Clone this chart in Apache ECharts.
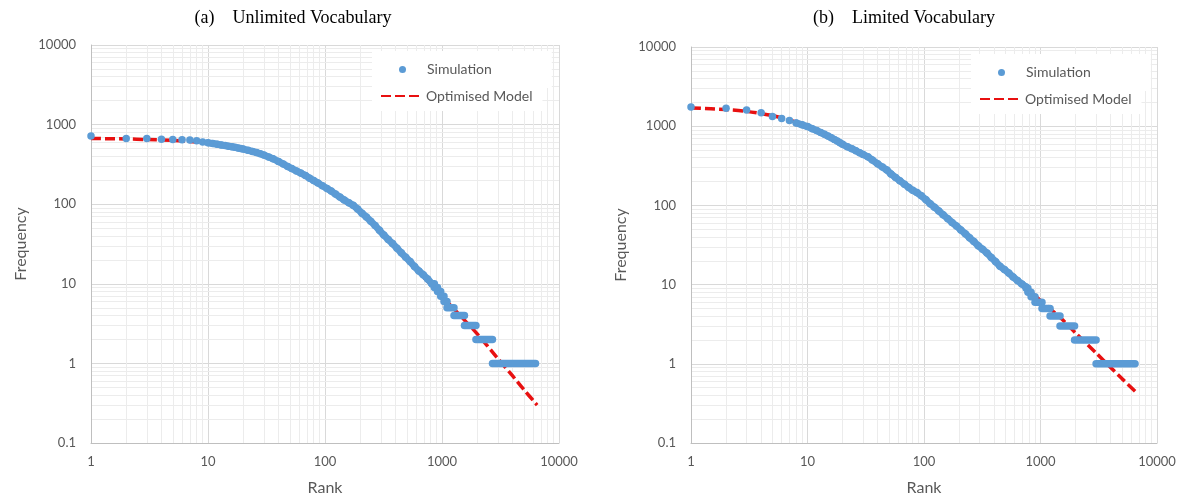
<!DOCTYPE html>
<html><head><meta charset="utf-8">
<script src="https://cdn.jsdelivr.net/npm/echarts@6/dist/echarts.min.js"></script>
<style>html,body{margin:0;padding:0;background:#fff}#c{width:1186px;height:501px}</style>
</head><body><div id="c"></div>
<script>
const titles = ['(a)    Unlimited Vocabulary', '(b)    Limited Vocabulary'];
const xTicks = [1, 10, 100, 1000, 10000];
const yTicks = [0.1, 1, 10, 100, 1000, 10000];
const seriesNames = ['Simulation', 'Optimised Model'];

// (a) Unlimited vocabulary — simulation (dense part)
const simA_rank = [1,2,3,4,5,6,7,8,9,10,11,12,13,14,15,16,17,18,19,20,22,24,26,28,30,33,36,40,44,48,52,57,62,68,74,80,87,95,104,113,123,134,146,160,174,190,207,226,246,268,292,318,347,378,412,449,490,534,582,634,691,753,821];
const simA_freq = [720,670,670,655,650,645,640,625,605,590,578,566,555,545,535,527,518,510,500,492,475,460,445,430,415,392,372,345,320,298,280,262,246,230,212,198,185,170,157,146,134,123,113,104,97,87,77,69,61,54,47,41,36,32,28,24.5,21.5,19,16.5,14.5,13,11.5,10];
const simA_denseFrom = 10; // rank from which the points merge into a continuous band
// (a) simulation — frequency plateaus (first rank, last rank)
const stepA_freq  = [10,9,8,7,6,5,4,3,2,1];
const stepA_start = [821,860,915,975,1040,1104,1266,1556,1950,2700];
const stepA_end   = [860,915,975,1040,1104,1266,1556,1950,2700,6300];
// (a) optimised model
const modelA_rank = [1,2,3,5,7,10,15,20,30,50,70,100,150,200,300,500,700,1000,1500,2000,3000,4000,5000,6500];
const modelA_freq = [670,660,650,635,615,585,535,492,415,285,220,160,110,80,44,20,12,7,3.7,2.35,1.15,0.7,0.47,0.3];

// (b) Limited vocabulary — simulation (dense part)
const simB_rank = [1,2,3,4,5,6,7,8,9,10,11,12,13,14,15,16,17,18,19,20,22,24,26,28,30,33,36,40,44,48,52,57,62,68,74,80,87,95,104,113,123,134,146,160,174,190,207,226,246,268,292,318,347,378,412,449,490,534,582,634,691,753];
const simB_freq = [1750,1680,1600,1480,1330,1250,1180,1100,1040,990,930,880,830,790,750,715,680,650,620,590,550,520,490,462,440,410,375,335,305,280,250,225,205,185,168,155,145,132,118,105,95,85,76,68,61,55,49,44,39,35,31,28,25,22,19.5,17,15.5,14,12.5,11.3,10.2,9.3];
const simB_denseFrom = 8;
const stepB_freq  = [9,8,7,6,5,4,3,2,1];
const stepB_start = [753,780,830,897,1030,1208,1470,1960,3000];
const stepB_end   = [780,830,897,1030,1208,1470,1960,3000,6475];
const modelB_rank = [1,2,3,5,7,10,15,20,30,50,70,100,150,200,300,500,700,1000,1500,2000,3000,4000,5000,6500];
const modelB_freq = [1700,1620,1540,1360,1200,990,760,600,440,260,180,125,76,52,30,15,10,6.3,3.75,2.45,1.37,0.9,0.65,0.45];

const BLUE = '#5B9BD5', RED = '#E81010';
const LABEL = '#595959';
const FONT = 'Lato';

const zip = (a, b) => a.map((v, i) => [v, b[i]]);

function minorLines() {
  const xs = [], ys = [];
  for (let i = 0; i < xTicks.length - 1; i++)
    for (let m = 2; m <= 9; m++) xs.push(+(m * xTicks[i]).toPrecision(3));
  for (let i = 0; i < yTicks.length - 1; i++)
    for (let m = 2; m <= 9; m++) ys.push(+(m * yTicks[i]).toPrecision(3));
  return xs.map(v => ({xAxis: v})).concat(ys.map(v => ({yAxis: v})));
}

function chartSeries(gi, simR, simF, denseFrom, stF, stS, stE, mR, mF) {
  const s = [];
  s.push({
    type: 'line', xAxisIndex: gi, yAxisIndex: gi, data: [[1, 1]], showSymbol: false, symbol: 'none',
    lineStyle: {opacity: 0}, silent: true, z: 0, animation: false,
    markLine: {silent: true, z: 0, symbol: ['none', 'none'], label: {show: false}, animation: false,
      lineStyle: {color: '#ececec', width: 1, type: 'solid'}, data: minorLines()}
  });
  s.push({
    name: seriesNames[1], type: 'line', xAxisIndex: gi, yAxisIndex: gi,
    data: zip(mR, mF), symbol: 'none', showSymbol: false, smooth: 0.3, z: 2, animation: false,
    lineStyle: {color: RED, width: 3.5, type: [10, 4]}, itemStyle: {color: RED}
  });
  // continuous band where consecutive ranks overlap
  const dense = zip(simR, simF).filter(p => p[0] >= denseFrom);
  s.push({
    type: 'line', xAxisIndex: gi, yAxisIndex: gi, symbol: 'none', silent: true, z: 3,
    data: dense, lineStyle: {color: BLUE, width: 7, cap: 'round', join: 'round'}, animation: false
  });
  stF.forEach((f, i) => s.push({
    type: 'line', xAxisIndex: gi, yAxisIndex: gi, symbol: 'none', silent: true, z: 3,
    data: [[stS[i], f], [stE[i], f]],
    lineStyle: {color: BLUE, width: 7.5, cap: 'round'}, animation: false
  }));
  s.push({
    name: seriesNames[0], type: 'scatter', xAxisIndex: gi, yAxisIndex: gi,
    data: zip(simR, simF), symbol: 'circle', symbolSize: 7.5,
    itemStyle: {color: BLUE, opacity: 1, borderWidth: 0}, z: 3, animation: false, clip: false
  });
  return s;
}

const fmt = v => String(+Number(v).toPrecision(4));

function xAx(gi) {
  return {
    type: 'log', logBase: 10, gridIndex: gi, min: xTicks[0], max: xTicks[xTicks.length - 1],
    name: 'Rank', nameLocation: 'middle', nameGap: 37,
    nameTextStyle: {fontFamily: FONT, fontSize: 16, color: LABEL},
    axisLine: {show: true, lineStyle: {color: '#bfbfbf', width: 1}},
    axisTick: {show: false},
    axisLabel: {fontFamily: FONT, fontSize: 13, color: LABEL, margin: 12, formatter: fmt},
    splitLine: {show: true, lineStyle: {color: '#d9d9d9', width: 1}},
    minorTick: {show: false}, minorSplitLine: {show: false}
  };
}
function yAx(gi) {
  return {
    type: 'log', logBase: 10, gridIndex: gi, min: yTicks[0], max: yTicks[yTicks.length - 1],
    name: 'Frequency', nameLocation: 'middle', nameGap: 62,
    nameTextStyle: {fontFamily: FONT, fontSize: 16, color: LABEL},
    axisLine: {show: true, lineStyle: {color: '#bfbfbf', width: 1}},
    axisTick: {show: false},
    axisLabel: {fontFamily: FONT, fontSize: 13, color: LABEL, margin: 15, formatter: fmt},
    splitLine: {show: true, lineStyle: {color: '#d9d9d9', width: 1}}
  };
}

function legends(left, top) {
  const common = {
    orient: 'vertical', left: left, backgroundColor: '#fff', selectedMode: false, itemGap: 0, z: 10
  };
  const ts = {fontFamily: FONT, fontSize: 14, color: LABEL};
  return [
    Object.assign({}, common, {
      data: [{name: seriesNames[0], icon: 'circle'}], top: top, itemWidth: 7, itemHeight: 7,
      padding: [11.5, 60, 11.5, 27],
      textStyle: Object.assign({}, ts, {padding: [0, 0, 0, 16]})
    }),
    Object.assign({}, common, {
      data: [{name: seriesNames[1], itemStyle: {opacity: 0}}], top: top + 30, itemWidth: 40, itemHeight: 14,
      padding: [8, 10, 8, 8], textStyle: ts
    })
  ];
}

const titleStyle = {fontFamily: 'Liberation Serif', fontSize: 18, fontWeight: 'normal', color: '#000'};

const option = {
  backgroundColor: '#fff',
  animation: false,
  title: [
    {text: titles[0], left: 293, top: 9, textAlign: 'center', padding: 0, textStyle: titleStyle},
    {text: titles[1], left: 904, top: 9, textAlign: 'center', padding: 0, textStyle: titleStyle}
  ],
  legend: legends(372, 51).concat(legends(971, 54)),
  grid: [
    {left: 91, top: 45, width: 468, height: 398, containLabel: false},
    {left: 691, top: 47, width: 466, height: 397, containLabel: false}
  ],
  xAxis: [xAx(0), xAx(1)],
  yAxis: [yAx(0), yAx(1)],
  series: chartSeries(0, simA_rank, simA_freq, simA_denseFrom, stepA_freq, stepA_start, stepA_end, modelA_rank, modelA_freq)
    .concat(chartSeries(1, simB_rank, simB_freq, simB_denseFrom, stepB_freq, stepB_start, stepB_end, modelB_rank, modelB_freq))
};

const chart = echarts.init(document.getElementById('c'), null, {renderer: 'canvas'});
chart.setOption(option);
</script>
</body></html>
